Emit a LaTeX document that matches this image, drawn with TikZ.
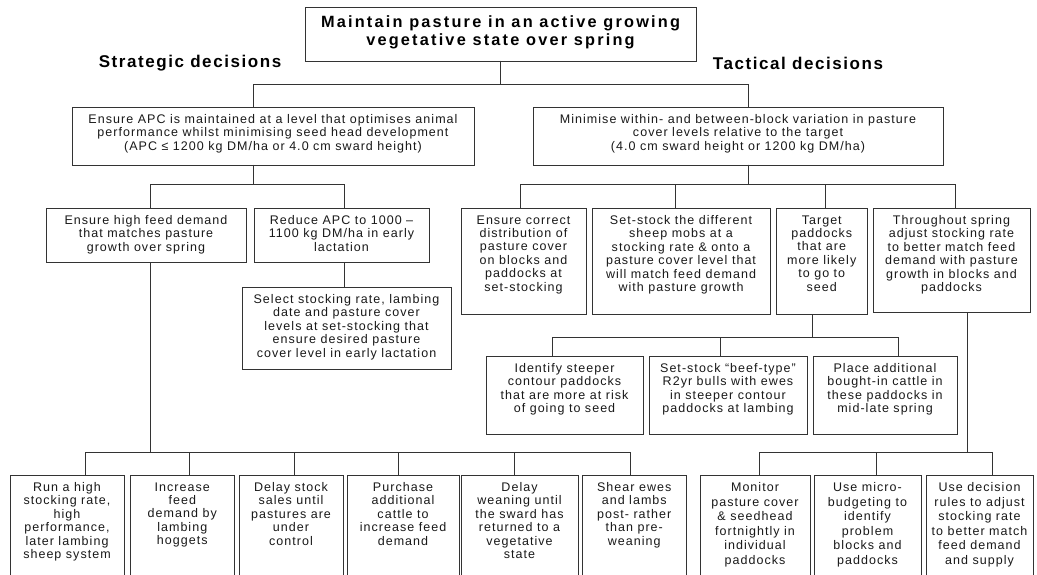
\documentclass[tikz,border=0pt]{standalone}
\usepackage{fontspec}
\setmainfont{Liberation Sans}
\newfontfamily\bodyf[LetterSpace=8.3]{Liberation Sans}
\newfontfamily\titlef[LetterSpace=13.5]{Liberation Sans}
\newfontfamily\headf[LetterSpace=9.2]{Liberation Sans}
\tikzset{
  boxst/.style={draw=black!80, line width=0.9pt, inner sep=0pt, outer sep=0pt, fill=none},
  txt/.style={font={\bodyf\fontsize{12.5}{13.4}\selectfont}, align=center, inner sep=0pt, text=black!90},
  txtR/.style={font={\bodyf\fontsize{12.5}{14.6}\selectfont}, align=center, inner sep=0pt, text=black!90},
  conn/.style={draw=black!80, line width=0.9pt},
  headst/.style={font={\headf\bfseries\fontsize{17}{19}\selectfont}, inner sep=0pt, text=black},
}
\newcommand\bx[7][txt]{%
  \node[boxst, anchor=north west, minimum width={(#5-#3)*1pt}, minimum height={(#6-#4)*1pt}] (#2) at (#3,#4) {};
  \node[#1, anchor=north] (#2-t) at ({(#3+#5)/2},{#4+7.3}) {#7};
}
\begin{document}
\begin{tikzpicture}[x=1pt,y=-1pt]
\useasboundingbox (0,0) rectangle (1037,575);
\clip (0,0) rectangle (1037,575);
\fill[white] (0,0) rectangle (1037,575);

% title
\node[boxst, anchor=north west, minimum width=391pt, minimum height=54pt] (top) at (305,7) {};
\node[font={\titlef\bfseries\fontsize{16.3}{17.7}\selectfont}, align=center, inner sep=0pt] (top-t) at (500.5,32)
  {Maintain pasture in an active growing\\vegetative state over spring};

\node[headst] (strat) at (190,63.5) {Strategic decisions};
\node[headst] (tact) at (798,63.5) {Tactical decisions};

% second level
\bx{apc}{72}{107}{474}{165}{Ensure APC is maintained at a level that optimises animal\\performance whilst minimising seed head development\\(APC ≤ 1200 kg DM/ha or 4.0 cm sward height)}
\bx{mini}{533}{107}{943}{165}{Minimise within- and between-block variation in pasture\\cover levels relative to the target\\(4.0 cm sward height or 1200 kg DM/ha)}

% strategic third level
\bx{feed}{46}{208}{246}{262}{Ensure high feed demand\\that matches pasture\\growth over spring}
\bx{red}{254}{208}{429}{262}{Reduce APC to 1000 –\\1100 kg DM/ha in early\\lactation}
\bx{sel}{242}{287}{451}{369}{Select stocking rate, lambing\\date and pasture cover\\levels at set-stocking that\\ensure desired pasture\\cover level in early lactation}

% tactical third level
\bx{tone}{461}{208}{586}{314}{Ensure correct\\distribution of\\pasture cover\\on blocks and\\paddocks at\\set-stocking}
\bx{ttwo}{592}{208}{770}{314}{Set-stock the different\\sheep mobs at a\\stocking rate \& onto a\\pasture cover level that\\will match feed demand\\with pasture growth}
\bx{tthree}{776}{208}{867.5}{314}{Target\\paddocks\\that are\\more likely\\to go to\\seed}
\bx{tfour}{873}{208}{1030}{312}{Throughout spring\\adjust stocking rate\\to better match feed\\demand with pasture\\growth in blocks and\\paddocks}

% middle boxes under Target
\bx{mone}{486}{356}{643}{434}{Identify steeper\\contour paddocks\\that are more at risk\\of going to seed}
\bx{mtwo}{649}{356}{807}{434}{Set-stock “beef-type”\\R2yr bulls with ewes\\in steeper contour\\paddocks at lambing}
\bx{mthree}{813}{356}{957}{434}{Place additional\\bought-in cattle in\\these paddocks in\\mid-late spring}

% bottom strategic boxes
\bx{bone}{10}{475}{124}{600}{Run a high\\stocking rate,\\high\\performance,\\later lambing\\sheep system}
\bx{btwo}{130}{475}{234.5}{600}{Increase\\feed\\demand by\\lambing\\hoggets}
\bx{bthree}{239}{475}{343}{600}{Delay stock\\sales until\\pastures are\\under\\control}
\bx{bfour}{347}{475}{459}{600}{Purchase\\additional\\cattle to\\increase feed\\demand}
\bx{bfive}{461}{475}{578}{600}{Delay\\weaning until\\the sward has\\returned to a\\vegetative\\state}
\bx{bsix}{582}{475}{686.5}{600}{Shear ewes\\and lambs\\post- rather\\than pre-\\weaning}

% bottom tactical boxes
\bx[txtR]{rone}{700}{475}{810}{600}{Monitor\\pasture cover\\\& seedhead\\fortnightly in\\individual\\paddocks}
\bx[txtR]{rtwo}{814}{475}{921}{600}{Use micro-\\budgeting to\\identify\\problem\\blocks and\\paddocks}
\bx[txtR]{rthree}{926}{475}{1033}{600}{Use decision\\rules to adjust\\stocking rate\\to better match\\feed demand\\and supply}

% connectors
\draw[conn] (top.south) -- (500.5,84) -| (apc.north -| 253,0);
\draw[conn] (top.south) -- (500.5,84) -| (mini.north -| 748,0);

\draw[conn] (apc.south -| 253,0) -- (253,184) -| (feed.north -| 150,0);
\draw[conn] (apc.south -| 253,0) -- (253,184) -| (red.north -| 344,0);
\draw[conn] (red.south -| 344,0) -- (sel.north -| 344,0);

\draw[conn] (feed.south -| 150,0) -- (150,452) -| (bone.north -| 85.5,0);
\draw[conn] (feed.south -| 150,0) -- (150,452) -| (btwo.north -| 189.6,0);
\draw[conn] (feed.south -| 150,0) -- (150,452) -| (bthree.north -| 294,0);
\draw[conn] (feed.south -| 150,0) -- (150,452) -| (bfour.north -| 398,0);
\draw[conn] (feed.south -| 150,0) -- (150,452) -| (bfive.north -| 514,0);
\draw[conn] (feed.south -| 150,0) -- (150,452) -| (bsix.north -| 630,0);

\draw[conn] (mini.south -| 748,0) -- (748,184) -| (tone.north -| 520,0);
\draw[conn] (mini.south -| 748,0) -- (748,184) -| (ttwo.north -| 675,0);
\draw[conn] (mini.south -| 748,0) -- (748,184) -| (tthree.north -| 825,0);
\draw[conn] (mini.south -| 748,0) -- (748,184) -| (tfour.north -| 955,0);

\draw[conn] (tthree.south -| 812,0) -- (812,337) -| (mone.north -| 552,0);
\draw[conn] (tthree.south -| 812,0) -- (812,337) -| (mtwo.north -| 720,0);
\draw[conn] (tthree.south -| 812,0) -- (812,337) -| (mthree.north -| 898,0);

\draw[conn] (tfour.south -| 967,0) -- (967,452) -| (rone.north -| 759,0);
\draw[conn] (tfour.south -| 967,0) -- (967,452) -| (rtwo.north -| 876,0);
\draw[conn] (tfour.south -| 967,0) -- (967,452) -| (rthree.north -| 992,0);
\end{tikzpicture}
\end{document}
